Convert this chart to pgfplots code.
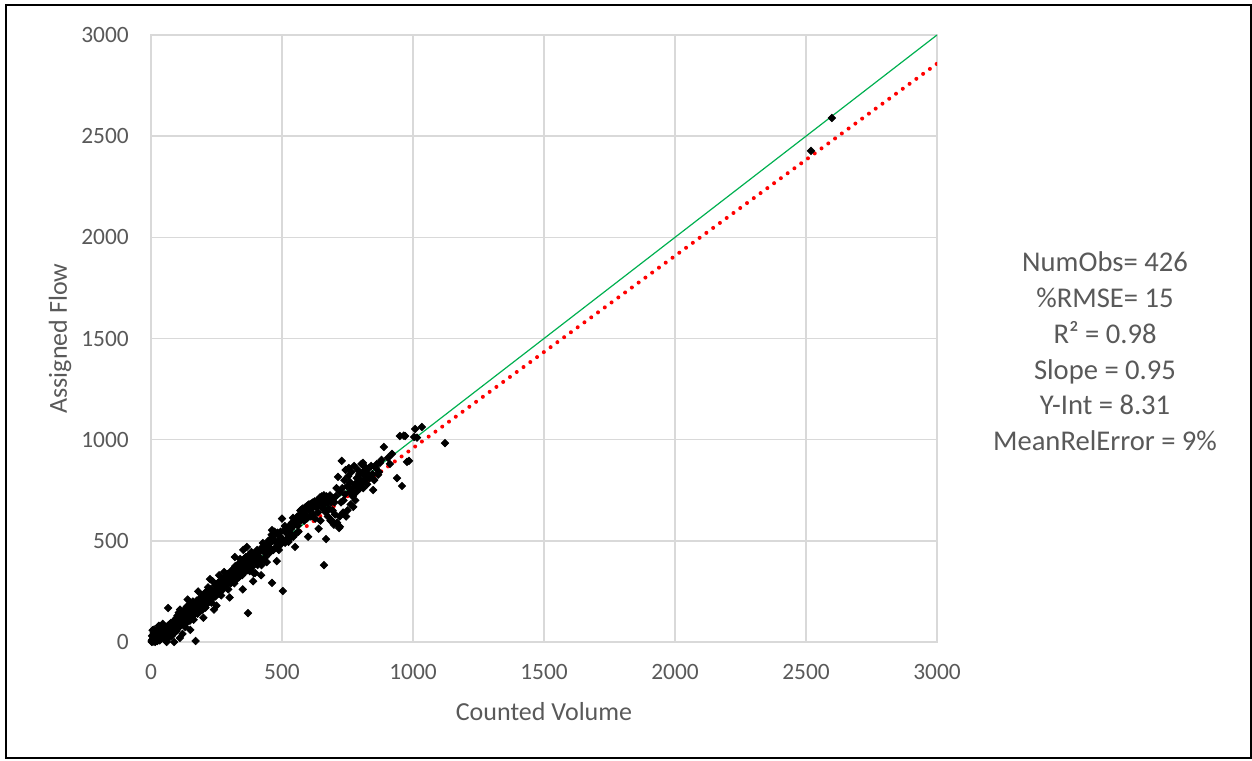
\documentclass[border=0pt]{standalone}
\usepackage{pgfplots}
\pgfplotsset{compat=1.18}
\usepackage{fontspec}
\setmainfont{Carlito}
\definecolor{txtgray}{HTML}{595959}
\definecolor{gridgray}{HTML}{D9D9D9}
\definecolor{xlgreen}{HTML}{00B050}
\begin{document}
\begin{tikzpicture}
\useasboundingbox (0,0) rectangle (626pt,380pt);
\draw[black, line width=1pt] (3pt,1pt) rectangle (625.5pt,377.5pt);
\begin{axis}[
  at={(75.5pt,59pt)}, anchor=south west,
  scale only axis, width=393pt, height=303.5pt,
  xmin=0, xmax=3000, ymin=0, ymax=3000,
  xtick={0,500,...,3000}, ytick={0,500,...,3000},
  grid=major, major grid style={draw=gridgray, line width=0.8pt},
  axis line style={draw=gridgray, line width=0.8pt},
  tick style={draw=none},
  scaled ticks=false,
  /pgf/number format/1000 sep={},
  /pgf/number format/assume math mode=true,
  tick label style={font=\fontsize{11.7}{14}\selectfont, text=txtgray},
  yticklabel style={xshift=-7.6pt},
  xticklabel style={yshift=-7.6pt},
  xlabel={Counted Volume}, ylabel={Assigned Flow},
  label style={font=\fontsize{13}{15}\selectfont, text=txtgray},
  xlabel style={at={(axis description cs:0.5,-0.1153)}, anchor=center},
  ylabel style={at={(axis description cs:-0.1158,0.5)}, anchor=center},
]
\addplot[only marks, mark=square*, mark size=1.3pt, mark options={rotate=45, fill=black, draw=black}] table {
x y
2 5
3 0
5 12
4 30
6 58
8 2
9 20
10 45
12 8
12 62
14 15
15 35
16 0
18 22
19 50
20 10
21 28
22 40
24 5
25 18
26 55
27 32
28 12
30 38
30 80
31 70
32 45
33 8
35 28
36 52
37 15
38 40
40 30
40 62
41 20
42 48
44 35
45 90
46 58
47 40
48 25
50 52
50 70
51 42
52 30
54 60
55 18
56 48
57 75
58 38
60 0
60 28
61 65
62 45
64 80
65 168
66 35
67 62
68 20
70 72
70 55
71 88
72 40
74 65
75 78
76 50
77 95
78 60
79 30
80 70
81 85
82 55
84 100
85 75
86 62
87 42
88 0
89 80
90 105
91 66
92 85
94 110
95 70
96 92
97 55
98 120
99 80
100 95
101 130
102 88
104 108
105 70
106 145
107 96
108 118
110 20
111 160
112 82
113 125
115 108
116 140
117 95
118 120
120 40
120 112
122 135
124 100
125 150
126 120
128 85
130 74
130 128
132 165
133 110
134 145
135 130
137 175
138 120
139 100
140 210
142 138
143 180
145 125
146 160
147 140
148 105
150 60
150 148
152 190
153 135
155 160
156 120
157 178
158 150
160 200
161 142
162 168
163 110
165 185
166 155
167 175
168 138
170 5
170 195
171 160
172 180
174 150
175 205
176 170
178 140
180 250
180 175
182 160
184 210
185 185
186 150
188 200
189 175
190 220
192 168
193 195
195 182
196 230
197 160
198 205
200 120
202 215
203 180
205 240
206 200
208 170
209 225
210 195
212 250
213 210
215 190
216 230
218 270
219 205
220 215
222 245
224 200
225 311
227 260
228 215
230 240
231 195
232 255
234 228
235 300
236 245
238 220
240 160
241 235
243 250
245 280
246 225
248 260
250 180
252 275
253 255
255 290
257 240
258 270
260 330
262 300
263 245
265 285
267 265
268 230
270 290
272 275
274 310
275 260
277 295
279 346
280 300
282 280
284 325
285 290
287 270
288 310
290 285
292 335
294 300
295 260
297 320
298 295
300 220
302 310
304 345
305 290
307 330
309 355
310 300
312 340
314 320
315 360
317 330
318 290
320 420
322 375
324 330
325 345
327 310
329 365
330 340
332 380
334 355
335 320
337 390
338 350
340 410
341 370
343 335
345 380
347 360
348 330
350 260
352 455
353 365
355 410
356 385
358 345
360 400
362 420
363 375
366 470
367 400
368 355
370 143
372 410
374 430
375 380
377 350
378 420
380 400
383 445
385 370
387 420
389 395
390 300
392 340
394 415
397 341
398 440
400 420
402 400
405 455
407 380
409 425
411 440
413 410
415 395
417 455
420 330
422 380
425 470
427 489
430 410
432 460
435 440
437 420
440 475
442 395
445 455
448 500
450 470
452 440
455 490
457 510
458 460
460 530
462 292
462 553
465 500
467 455
470 525
472 545
475 495
478 470
480 400
483 540
485 500
488 455
490 525
493 480
495 545
498 510
500 610
503 252
505 505
508 550
511 573
512 490
515 545
518 510
520 560
523 530
525 495
528 575
530 540
533 515
535 560
538 590
542 613
543 520
545 575
548 600
550 470
553 535
555 590
558 620
560 575
563 545
565 605
568 630
570 650
573 600
575 655
578 620
580 660
583 640
585 600
588 665
590 630
593 670
595 610
598 675
600 520
603 680
605 650
608 670
610 620
612 685
615 660
618 690
620 630
622 675
625 695
627 610
630 690
632 665
635 700
637 640
640 560
642 680
645 715
647 600
650 690
652 720
655 660
657 700
660 380
660 725
662 680
665 700
667 640
668 509
670 720
672 690
675 620
678 700
680 660
683 725
685 600
688 690
690 600
693 650
695 710
698 580
700 690
703 630
705 720
708 760
710 590
714 816
718 563
720 620
721 570
722 740
725 690
728 895
730 760
733 640
735 700
738 800
740 730
743 850
745 620
748 770
750 650
753 820
755 860
758 740
760 790
762 680
765 840
768 760
770 720
772 668
775 870
778 780
780 700
783 740
785 810
788 770
790 850
793 790
795 830
798 760
800 800
803 880
805 790
808 840
809 885
810 760
813 870
815 820
818 800
822 850
825 780
828 830
832 860
835 810
840 870
845 830
848 751
852 800
858 860
862 880
867 827
870 840
874 885
880 900
889 964
905 910
912 880
920 930
939 810
950 1018
958 771
965 1020
970 1018
977 890
985 895
1004 1013
1008 1053
1015 1010
1034 1063
1122 983
2519 2427
2599 2590
};
\addplot[xlgreen, line width=0.6pt] coordinates {(0,0) (3000,3000)};
\addplot[red, line width=2pt, line cap=round, dash pattern=on 0pt off 4.2pt] coordinates {(0,8.31) (3000,2858.31)};
\end{axis}
\node[align=center, text=txtgray, font=\fontsize{14.3}{17.9}\selectfont] at (552.5pt,204.3pt) {NumObs= 426\\\%RMSE= 15\\R² = 0.98\\Slope = 0.95\\Y-Int = 8.31\\MeanRelError = 9\%};
\end{tikzpicture}
\end{document}
